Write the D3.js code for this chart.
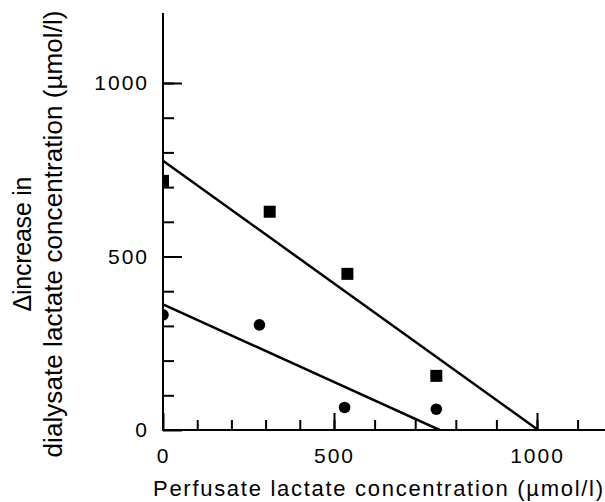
<!DOCTYPE html>
<meta charset="UTF-8">

<head>
    <title>Lactate concentration</title>
</head>
<style>
    body {
        margin: 0;
        background: #fff;
    }

    text {
        font-family: "Liberation Sans", Arial, sans-serif;
        fill: #000;
    }

    .tick text {
        font-size: 21px;
        letter-spacing: 2px;
    }
</style>

<body>
    <div id="chart"></div>

    <script src="https://d3js.org/d3.v7.min.js"></script>
    <script>
        // values (µmol/l)
        var xTicks = [0, 500, 1000];
        var yTicks = [0, 500, 1000];
        var squareX = [0, 312, 533, 752];
        var squareY = [718, 629, 450, 156];
        var circleX = [0, 282, 526, 752];
        var circleY = [332, 303, 65, 60];
        // fitted lines, start and end
        var upperX = [0, 1003];
        var upperY = [776, 0];
        var lowerX = [0, 760];
        var lowerY = [362, 0];

        var w = 605;
        var h = 502;

        var svg = d3.select("#chart")
            .append("svg")
            .attr("width", w)
            .attr("height", h);

        // x labels in the original are not evenly spaced, so the scale has a knee at 500
        var x = d3.scaleLinear().domain([0, 500, 1000]).range([163, 334, 537]);
        var y = d3.scaleLinear().domain([0, 1000]).range([430, 83]);

        // minor ticks
        svg.append("g")
            .attr("transform", "translate(0,430)")
            .call(d3.axisBottom(x).tickValues(d3.range(100, 1200, 100)).tickSizeInner(-10).tickSizeOuter(0).tickFormat(""))
            .call(g => g.select(".domain").remove());
        svg.append("g")
            .attr("transform", "translate(163,0)")
            .call(d3.axisLeft(y).tickValues(d3.range(100, 1100, 100)).tickSizeInner(-11).tickSizeOuter(0).tickFormat(""))
            .call(g => g.select(".domain").remove());

        // major ticks + labels
        svg.append("g")
            .attr("transform", "translate(0,430)")
            .call(d3.axisBottom(x).tickValues(xTicks).tickSizeInner(-17).tickSizeOuter(0).tickPadding(18).tickFormat(d3.format("d")))
            .call(g => g.select(".domain").remove());
        svg.append("g")
            .attr("transform", "translate(163,0)")
            .call(d3.axisLeft(y).tickValues(yTicks).tickSizeInner(-19).tickSizeOuter(0).tickPadding(14).tickFormat(d3.format("d")))
            .call(g => g.select(".domain").remove());

        svg.selectAll(".tick line").attr("stroke", "#000").attr("stroke-width", 2);

        // axis lines
        svg.append("line")
            .attr("x1", 163).attr("x2", 163)
            .attr("y1", 13).attr("y2", 431)
            .attr("stroke", "#000").attr("stroke-width", 2);
        svg.append("line")
            .attr("x1", 162).attr("x2", w)
            .attr("y1", 430).attr("y2", 430)
            .attr("stroke", "#000").attr("stroke-width", 2);

        // points sitting on the y axis are cut in half
        svg.append("clipPath")
            .attr("id", "plot")
            .append("rect")
            .attr("x", 163).attr("y", 0)
            .attr("width", w - 163).attr("height", 430);

        var marks = svg.append("g").attr("clip-path", "url(#plot)");

        var line = d3.line()
            .x(d => x(d[0]))
            .y(d => y(d[1]));

        marks.append("path")
            .datum(d3.zip(upperX, upperY))
            .attr("d", line)
            .attr("fill", "none")
            .attr("stroke", "#000")
            .attr("stroke-width", 2.5);
        marks.append("path")
            .datum(d3.zip(lowerX, lowerY))
            .attr("d", line)
            .attr("fill", "none")
            .attr("stroke", "#000")
            .attr("stroke-width", 2.5);

        var s = 12;
        marks.selectAll("rect.sq")
            .data(d3.zip(squareX, squareY))
            .enter()
            .append("rect")
            .attr("class", "sq")
            .attr("x", d => x(d[0]) - s / 2)
            .attr("y", d => y(d[1]) - s / 2)
            .attr("width", s)
            .attr("height", s)
            .attr("fill", "#000");

        marks.selectAll("circle")
            .data(d3.zip(circleX, circleY))
            .enter()
            .append("circle")
            .attr("cx", d => x(d[0]))
            .attr("cy", d => y(d[1]))
            .attr("r", 5.8)
            .attr("fill", "#000");

        // titles
        svg.append("text")
            .attr("x", 153)
            .attr("y", 496)
            .attr("font-size", 22)
            .attr("textLength", 450)
            .attr("lengthAdjust", "spacing")
            .text("Perfusate lactate concentration (µmol/l)");

        svg.append("text")
            .attr("transform", "translate(31,244) rotate(-90)")
            .attr("text-anchor", "middle")
            .attr("font-size", 25)
            .attr("textLength", 135)
            .attr("lengthAdjust", "spacing")
            .text("Δincrease in");
        svg.append("text")
            .attr("transform", "translate(62,234) rotate(-90)")
            .attr("text-anchor", "middle")
            .attr("font-size", 26)
            .attr("textLength", 447)
            .attr("lengthAdjust", "spacing")
            .text("dialysate lactate concentration (µmol/l)");
    </script>
</body>

</html>
